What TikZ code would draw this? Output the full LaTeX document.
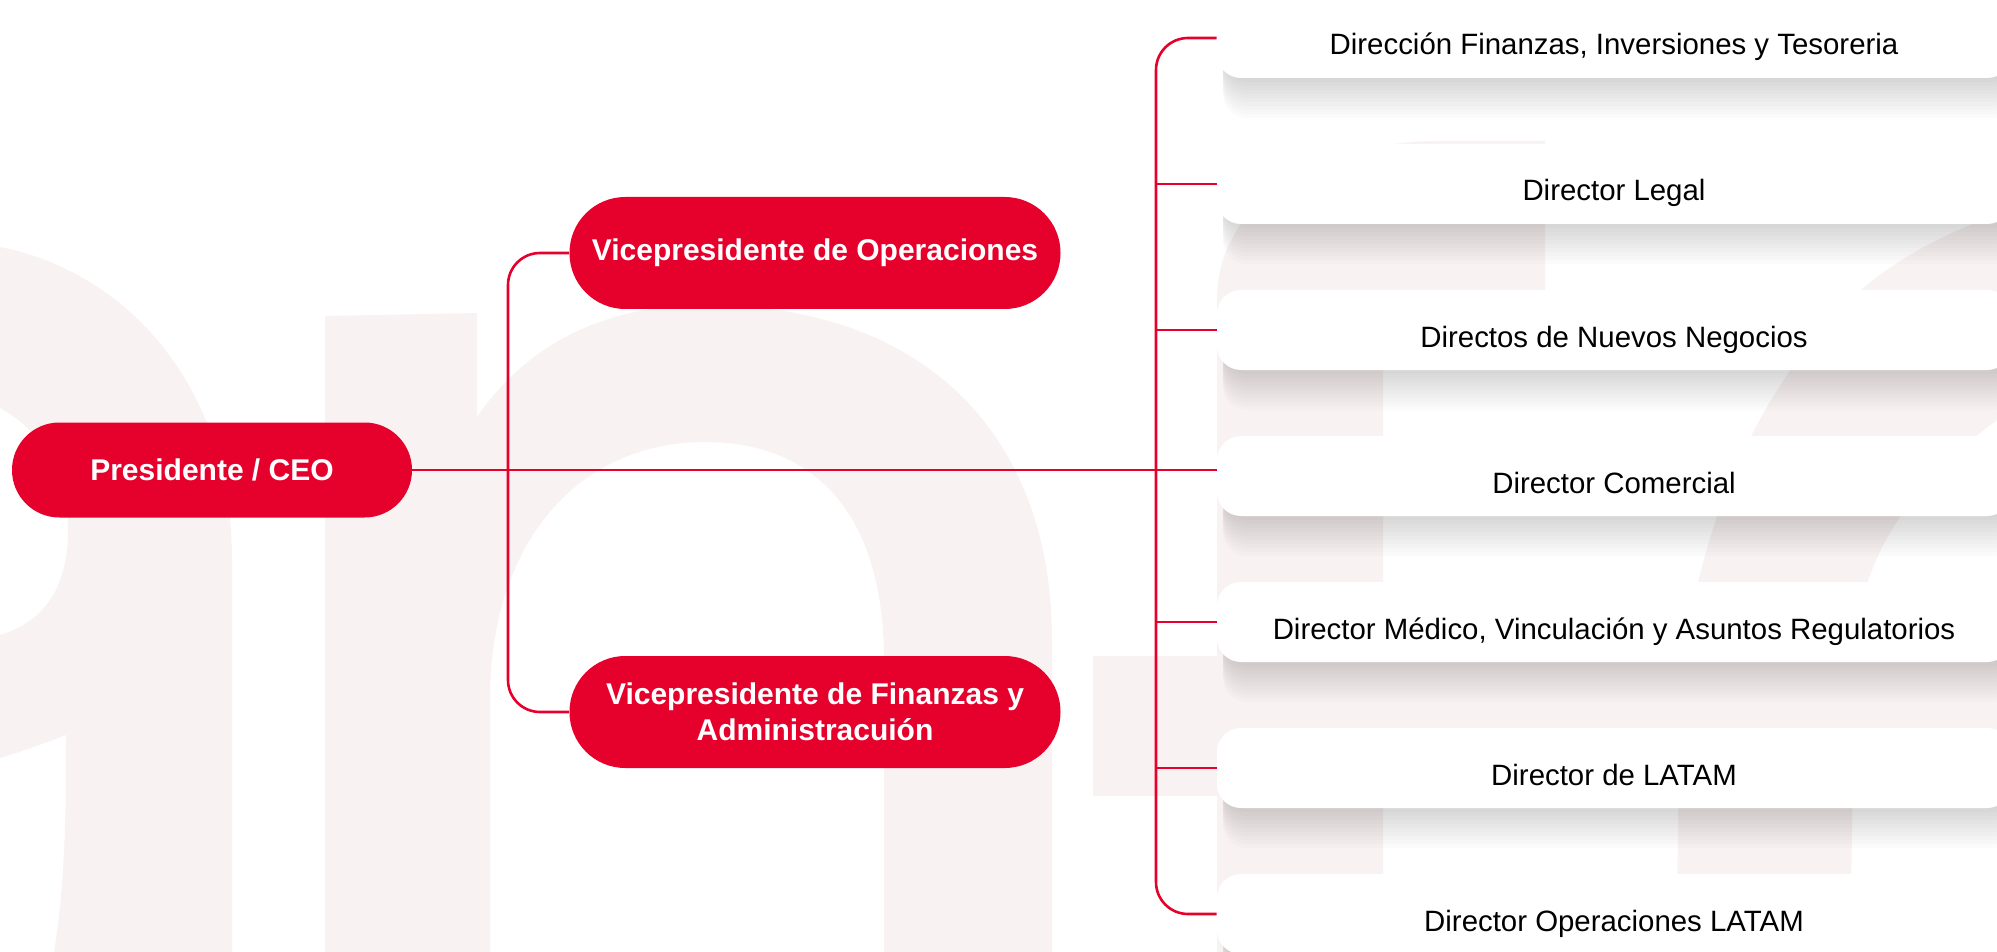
\documentclass[tikz,border=0pt]{standalone}
\usepackage{fontspec}
\setmainfont{Liberation Sans}
\usepackage{tikz}
\usetikzlibrary{positioning}
\usepackage{xcolor}
\definecolor{rojo}{RGB}{230,0,44}
\definecolor{fondo}{RGB}{249,242,243}

\begin{document}
\begin{tikzpicture}[x=0.5pt, y=-0.5pt,
    cargo/.style={fill=rojo, text=white, inner sep=0pt, align=center,
        font=\fontsize{15}{18}\selectfont\bfseries},
    sombra/.style={preaction={fill=black, opacity=0.016,
        transform canvas={shift={(3pt,-#1)}}}},
    director/.style={fill=white, text=black, rounded corners=12pt,
        minimum width=397pt, minimum height=40pt, inner sep=0pt,
        text height=17pt, text depth=0pt,
        font=\fontsize{14.7}{17}\selectfont,
        sombra=2pt, sombra=4pt, sombra=6pt, sombra=8pt, sombra=10pt,
        sombra=12pt, sombra=14pt, sombra=16pt, sombra=18pt, sombra=20pt},
    linea/.style={draw=rojo, line width=1.3pt}]

    \useasboundingbox (0,0) rectangle (1997,952);
    \clip (0,0) rectangle (1997,952);
    \fill [white] (0,0) rectangle (1997,952);

    % letras de fondo
    \fill [fondo] (0,247) .. controls (120,270) and (232,380) .. (232,560)
        -- (232,952) -- (54,952) .. controls (66,880) and (66,800) .. (66,735)
        .. controls (40,745) and (20,752) .. (0,758) -- (0,635)
        .. controls (50,620) and (68,580) .. (68,530)
        .. controls (68,470) and (40,430) .. (0,408) -- cycle;
    \fill [fondo] (325,952) -- (325,316) -- (477,313) -- (477,417)
        .. controls (530,340) and (610,305) .. (705,305)
        .. controls (930,305) and (1052,440) .. (1052,640) -- (1052,952)
        -- (884,952) -- (884,660) .. controls (884,520) and (820,442) .. (705,442)
        .. controls (580,442) and (490,540) .. (490,700) -- (490,952) -- cycle;
    \fill [fondo] (1217,952) -- (1217,300) .. controls (1217,200) and (1320,141) .. (1440,141)
        -- (1545,141) -- (1545,330) -- (1383,330) -- (1383,952) -- cycle;
    \fill [fondo] (1093,656) rectangle (1997,796);
    \fill [fondo] (1676,952) -- (1680,700) .. controls (1690,560) and (1740,420) .. (1830,320)
        .. controls (1880,265) and (1940,235) .. (1997,215) -- (1997,420)
        .. controls (1930,470) and (1861,540) .. (1855,650) -- (1850,952) -- cycle;

    % cargos
    \node [cargo, rounded corners=23.7pt, minimum width=200pt, minimum height=47.5pt]
        (ceo) at (212,470) {Presidente / CEO};
    \node [cargo, rounded corners=27.9pt, minimum width=245.5pt, minimum height=56pt]
        (vpops) at (815,253) {Vicepresidente de Operaciones};
    \node [cargo, rounded corners=27.9pt, minimum width=245.5pt, minimum height=56pt]
        (vpfin) at (815,712) {Vicepresidente de Finanzas y\\Administracuión};

    % directores
    \node [director] (dirfin) at (1614,38) {Dirección Finanzas, Inversiones y Tesoreria};
    \node [director] (dirlegal) at (1614,184) {Director Legal};
    \node [director] (dirnuevos) at (1614,330) {Directos de Nuevos Negocios};
    \node [director] (dircom) at (1614,476) {Director Comercial};
    \node [director] (dirmed) at (1614,622) {Director Médico, Vinculación y Asuntos Regulatorios};
    \node [director] (dirlatam) at (1614,768) {Director de LATAM};
    \node [director] (dirops) at (1614,914) {Director Operaciones LATAM};

    % conectores
    \coordinate (rama) at (508,470);
    \coordinate (barra) at (1156,470);
    \draw [linea] (ceo.east) -- (ceo.east -| dircom.west);
    \draw [linea, rounded corners=16pt] (vpops.west) -| (rama) |- (vpfin.west);
    \draw [linea, rounded corners=16pt] (dirfin.west) -| (barra) |- (dirops.west);
    \draw [linea] (dirlegal.west) -- (dirlegal.west -| barra);
    \draw [linea] (dirnuevos.west) -- (dirnuevos.west -| barra);
    \draw [linea] (dirmed.west) -- (dirmed.west -| barra);
    \draw [linea] (dirlatam.west) -- (dirlatam.west -| barra);
\end{tikzpicture}
\end{document}
